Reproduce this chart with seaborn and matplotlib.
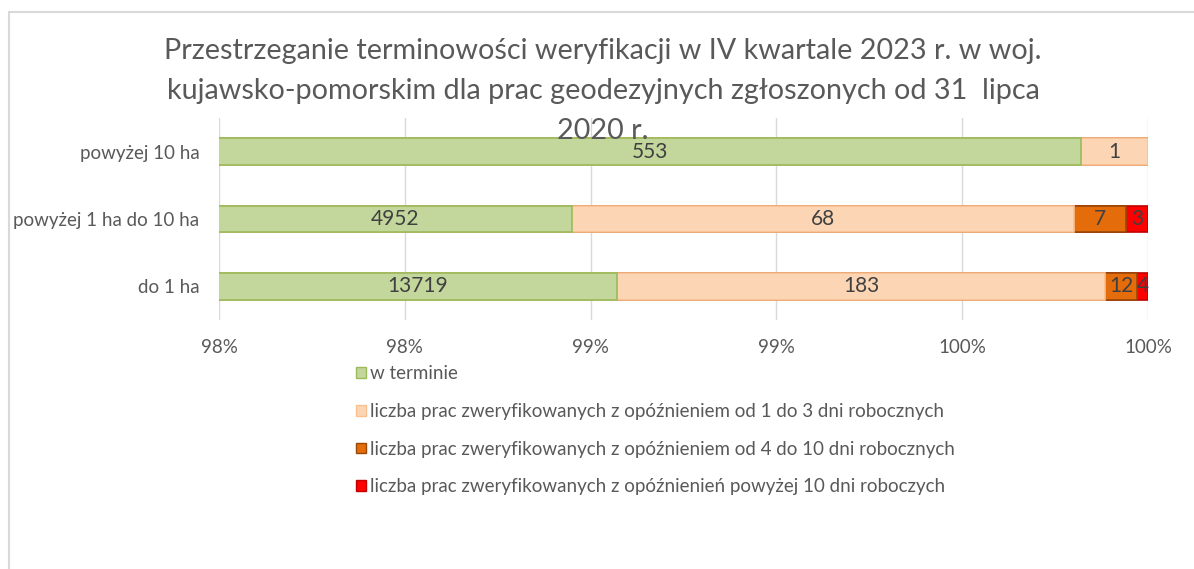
import math
import pandas as pd
import matplotlib
matplotlib.use("Agg")
import matplotlib.pyplot as plt
import seaborn as sns
from matplotlib.patches import Patch, Rectangle
from matplotlib.ticker import FuncFormatter, MultipleLocator

# data
categories = ["powyżej 10 ha", "powyżej 1 ha do 10 ha", "do 1 ha"]
w_terminie = [553, 4952, 13719]
opoz_1_3 = [1, 68, 183]
opoz_4_10 = [0, 7, 12]
opoz_10_plus = [0, 3, 4]

series_names = [
    "w terminie",
    "liczba prac zweryfikowanych z opóźnieniem od 1 do 3 dni robocznych",
    "liczba prac zweryfikowanych z opóźnieniem od 4 do 10 dni robocznych",
    "liczba prac zweryfikowanych z opóźnienień powyżej 10 dni roboczych",
]
colors = ["#C3D69B", "#FCD5B5", "#E46C0A", "#FF0000"]
edges = ["#9BBB59", "#FAC090", "#984807", "#C00000"]

title = ("Przestrzeganie terminowości weryfikacji w IV kwartale 2023 r. w woj.\n"
         "kujawsko-pomorskim dla prac geodezyjnych zgłoszonych od 31  lipca\n"
         "2020 r.")

df = pd.DataFrame({"kategoria": categories, "s0": w_terminie, "s1": opoz_1_3,
                   "s2": opoz_4_10, "s3": opoz_10_plus})
cols = ["s0", "s1", "s2", "s3"]
total = df[cols].sum(axis=1)
pct = df[cols].div(total, axis=0) * 100
cum = pct.cumsum(axis=1)

sns.set_theme(style="white")
plt.rcParams["font.family"] = ["Lato", "DejaVu Sans"]
text_col = "#595959"

fig = plt.figure(figsize=(11.94, 5.69), dpi=100)
ax = fig.add_axes([219 / 1194, 1 - 320 / 569, (1148 - 219) / 1194, (320 - 118) / 569])

# stacked bars: draw cumulative totals from the right-most series back to the first
for i in reversed(range(4)):
    plot_df = pd.DataFrame({"kategoria": categories, "val": cum[cols[i]]})
    sns.barplot(data=plot_df, x="val", y="kategoria", orient="h", color=colors[i],
                width=0.4, edgecolor=edges[i], linewidth=1.2, saturation=1, ax=ax,
                zorder=2 + (3 - i))

# segment labels
for r in range(len(categories)):
    start = 0
    for i, c in enumerate(cols):
        val = df.loc[r, c]
        end = cum.loc[r, c]
        if val > 0:
            left = max(start, 97.5)
            ax.text((left + end) / 2, r, f"{val}", ha="center", va="center",
                    fontsize=15, color="#404040", zorder=10)
        start = end

ax.set_xlim(97.5, 100)
ax.xaxis.set_major_locator(MultipleLocator(0.5))
ax.xaxis.set_major_formatter(FuncFormatter(lambda v, p: f"{math.floor(v + 0.5 + 1e-9)}%"))
ax.set_xlabel("")
ax.set_ylabel("")
ax.grid(axis="x", color="#D9D9D9", linewidth=1)
ax.set_axisbelow(True)
for s in ax.spines.values():
    s.set_visible(False)
ax.tick_params(axis="x", length=0, pad=14, labelsize=13.5, labelcolor=text_col)
ax.tick_params(axis="y", length=0, pad=14, labelsize=13.5, labelcolor=text_col)

fig.text(603 / 1194, 1 - 91 / 569, title, ha="center", va="center", fontsize=20.7,
         color=text_col, linespacing=1.65)

handles = [Patch(facecolor=colors[i], edgecolor=edges[i], label=series_names[i]) for i in range(4)]
fig.legend(handles=handles, loc="upper left", bbox_to_anchor=(347 / 1194, 1 - 356 / 569),
           frameon=False, fontsize=13.5, labelcolor=text_col, handlelength=0.5,
           handleheight=0.5, handletextpad=0.25, labelspacing=1.1, borderpad=0)

# outer chart-area border (only top and left visible)
fig.patches.append(Rectangle((9 / 1194, -0.1), 1.2, 1 - 12 / 569 + 0.1,
                             transform=fig.transFigure, fill=False,
                             edgecolor="#D9D9D9", linewidth=1.5))

fig.savefig("out.png", dpi=100)
